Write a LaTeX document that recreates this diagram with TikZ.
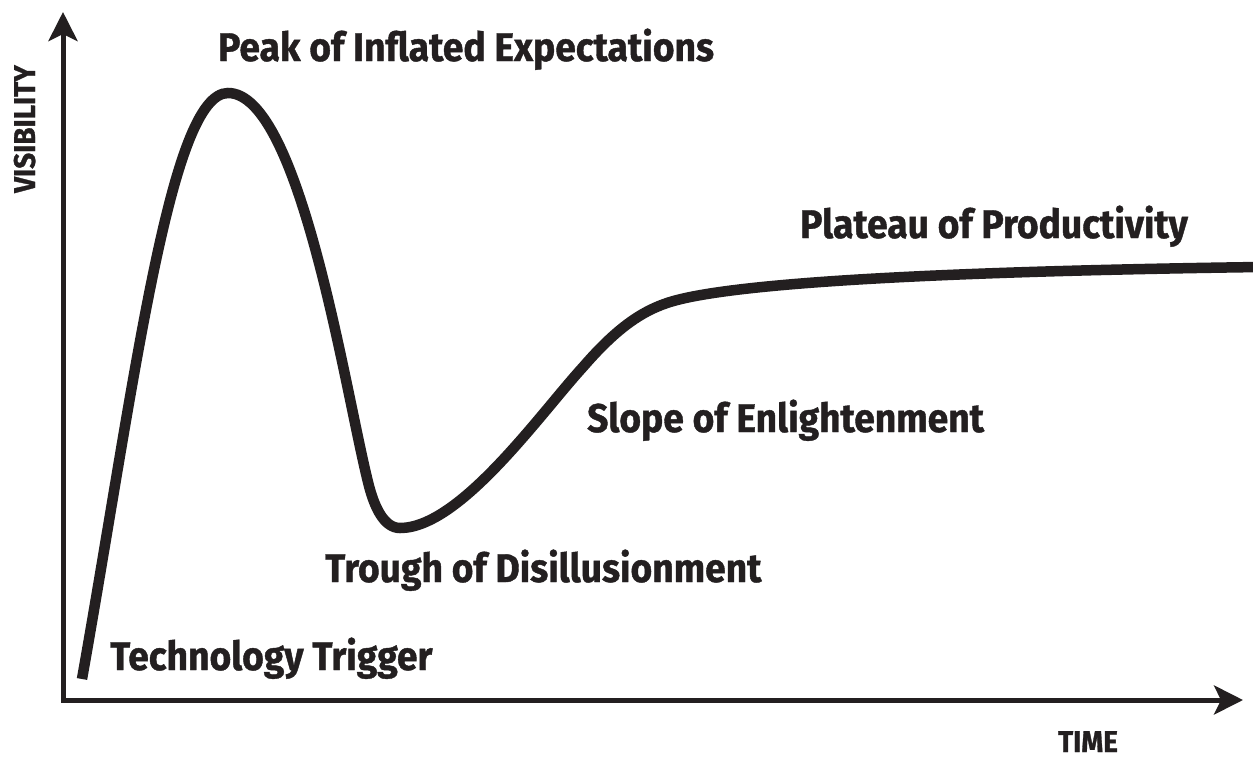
\documentclass[tikz,border=0pt]{standalone}
\usepackage{fontspec}
\setmainfont{Fira Sans}[FakeStretch=0.93,FakeBold=1]
\usetikzlibrary{arrows.meta}
\definecolor{ink}{RGB}{35,31,32}
\begin{document}
\begin{tikzpicture}[x=1pt,y=-1pt,
  lbl/.style={font=\fontsize{40}{40}\selectfont\bfseries, text=ink, inner sep=0pt, anchor=base west},
  axlbl/.style={font=\fontsize{30}{30}\selectfont\bfseries, text=ink, inner sep=0pt},
  axis/.style={draw=ink, line width=5pt, line join=miter,
    {Stealth[length=29pt,width=29pt,inset=7pt]}-{Stealth[length=29pt,width=29pt,inset=7pt]}},
  hype/.style={draw=ink, line width=10.5pt, line cap=butt}]
\useasboundingbox (0,0) rectangle (1253,761);
\fill[white] (0,0) rectangle (1253,761);
\coordinate (ytip) at (63,12);
\coordinate (xtip) at (1243,700);
\draw[axis] (ytip) |- (xtip);
% hype curve
\coordinate (start) at (82,679);
\coordinate (peak) at (228,93);
\coordinate (mid) at (368,482);
\coordinate (trough) at (400,528);
\coordinate (infl) at (583,367);
\coordinate (knee) at (667,303);
\coordinate (tail) at (1260,267);
\draw[hype] (start) .. controls (135,380) and (170,93) .. (peak)
  .. controls (300,93) and (345,390) .. (mid)
  .. controls (374,507) and (384,528) .. (trough)
  .. controls (460,528) and (540,414) .. (infl)
  .. controls (615,330) and (640,312) .. (knee)
  .. controls (720,285) and (900,272) .. (tail);
% labels
\node[lbl] (lpeak) at (218,61) {Peak of Inflated Expectations};
\node[lbl] (lplat) at (800,238) {Plateau of Productivity};
\node[lbl] (lslope) at (587,432) {Slope of Enlightenment};
\node[lbl] (ltrough) at (325,582) {Trough of Disillusionment};
\node[lbl] (ltech) at (110,670) {Technology Trigger};
\node[axlbl, rotate=90, anchor=base] (lvis) at (35,129) {VISIBILITY};
\node[axlbl, anchor=base] (ltime) at (1088,752) {TIME};
\end{tikzpicture}
\end{document}
